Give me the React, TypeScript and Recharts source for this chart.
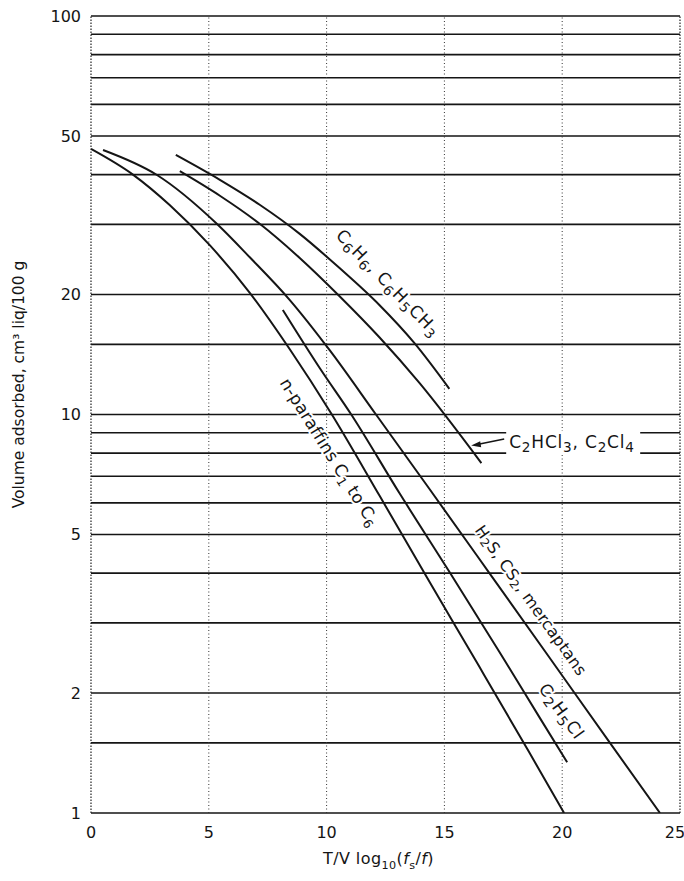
import React from 'react';
import { LineChart, Line, XAxis, YAxis, ReferenceLine, ReferenceDot, Label } from 'recharts';

const FONT = '"DejaVu Sans", "Open Sans", sans-serif';
const INK = '#151515';

// Axis ticks and grid values
const xTicks = [0, 5, 10, 15, 20, 25];
const yTicks = [1, 2, 5, 10, 20, 50, 100];
const yGrid = [1, 1.5, 2, 3, 4, 5, 6, 7, 8, 9, 10, 15, 20, 30, 40, 50, 60, 70, 80, 90, 100];
const xGrid = [5, 10, 15, 20];
const xEdges = [0, 25];

// Adsorption curves: x = T/V log10(fs/f), y = volume adsorbed (cm3 liq / 100 g)
const nParaffins = [
  { x: 0, y: 46.4 }, { x: 1.78, y: 40 }, { x: 3.35, y: 33.5 }, { x: 5.04, y: 26.6 },
  { x: 6.74, y: 20.2 }, { x: 8.43, y: 14.6 }, { x: 10.21, y: 10.03 }, { x: 12.25, y: 6.25 },
  { x: 14.36, y: 3.81 }, { x: 16.48, y: 2.33 }, { x: 18.6, y: 1.42 }, { x: 20.08, y: 1 },
];
const h2sGroup = [
  { x: 0.51, y: 46.1 }, { x: 2.8, y: 39.9 }, { x: 5.34, y: 30.1 }, { x: 6.74, y: 24.8 },
  { x: 8.43, y: 19.4 }, { x: 10.13, y: 14.5 }, { x: 12.08, y: 10.03 }, { x: 14.36, y: 6.51 },
  { x: 16.91, y: 4.0 }, { x: 19.45, y: 2.46 }, { x: 21.99, y: 1.51 }, { x: 24.15, y: 1 },
];
const aromatics = [
  { x: 3.6, y: 44.8 }, { x: 5.47, y: 38.8 }, { x: 7.16, y: 33.6 }, { x: 8.86, y: 28.4 },
  { x: 10.55, y: 23.3 }, { x: 12.25, y: 18.8 }, { x: 13.73, y: 15.1 }, { x: 15.21, y: 11.6 },
];
const chloroEthylenes = [
  { x: 3.77, y: 40.8 }, { x: 5.47, y: 35.4 }, { x: 7.16, y: 30.1 }, { x: 8.86, y: 24.7 },
  { x: 10.55, y: 19.8 }, { x: 12.25, y: 15.6 }, { x: 13.94, y: 12.0 }, { x: 16.57, y: 7.55 },
];
const ethylChloride = [
  { x: 8.14, y: 18.3 }, { x: 9.7, y: 13.1 }, { x: 11.06, y: 9.97 }, { x: 13.09, y: 6.35 },
  { x: 15.21, y: 4.03 }, { x: 17.33, y: 2.54 }, { x: 19.03, y: 1.74 }, { x: 20.21, y: 1.34 },
];

const curves = [nParaffins, h2sGroup, aromatics, chloroEthylenes, ethylChloride];

type Part = [string, 'n' | 'sub' | 'it'];

type Caption = {
  x: number; y: number; angle: number; anchor: 'middle' | 'start';
  fs: number; sub: number; spacing: number;
  parts: Part[]; arrow?: boolean; box?: boolean;
};

// Curve captions, anchored in data units
const captions: Caption[] = [
  {
    x: 12.62, y: 21.4, angle: 46, anchor: 'middle', fs: 17, sub: 0.8, spacing: 1,
    parts: [['C', 'n'], ['6', 'sub'], ['H', 'n'], ['6', 'sub'], [', C', 'n'], ['6', 'sub'], ['H', 'n'], ['5', 'sub'], ['CH', 'n'], ['3', 'sub']],
  },
  {
    x: 17.75, y: 8.53, angle: 0, anchor: 'start', fs: 17, sub: 0.8, spacing: 0.8, arrow: true, box: true,
    parts: [['C', 'n'], ['2', 'sub'], ['HCl', 'n'], ['3', 'sub'], [', C', 'n'], ['2', 'sub'], ['Cl', 'n'], ['4', 'sub']],
  },
  {
    x: 10.13, y: 8.05, angle: 58, anchor: 'middle', fs: 17, sub: 0.75, spacing: 0.3,
    parts: [['n-paraffins C', 'n'], ['1', 'sub'], [' to C', 'n'], ['6', 'sub']],
  },
  {
    x: 18.69, y: 3.42, angle: 54.6, anchor: 'middle', fs: 16, sub: 0.75, spacing: 0.3,
    parts: [['H', 'n'], ['2', 'sub'], ['S, CS', 'n'], ['2', 'sub'], [', mercaptans', 'n']],
  },
  {
    x: 19.98, y: 1.8, angle: 54, anchor: 'middle', fs: 17, sub: 0.8, spacing: 1,
    parts: [['C', 'n'], ['2', 'sub'], ['H', 'n'], ['5', 'sub'], ['Cl', 'n']],
  },
];

const renderParts = (parts: Part[], fs: number, sub = 0.7) => {
  let shift = 0;
  return parts.map(([t, k], i) => {
    const target = k === 'sub' ? fs * 0.3 : 0;
    const dy = target - shift;
    shift = target;
    return (
      <tspan key={i} dy={dy} fontSize={k === 'sub' ? fs * sub : fs} fontStyle={k === 'it' ? 'italic' : undefined}>
        {t}
      </tspan>
    );
  });
};

const CaptionShape = (props: any) => {
  const { cx, cy, caption } = props;
  if (cx == null || cy == null) return null;
  const c: Caption = caption;
  return (
    <g>
      {c.box && <rect x={cx - 3} y={cy - 11} width={134} height={24} fill="#fff" />}
      {c.arrow && (
        <g>
          <line x1={cx - 5} y1={cy - 3} x2={cx - 32} y2={cy + 2.5} stroke={INK} strokeWidth={1.5} />
          <path d={`M ${cx - 38} ${cy + 3.6} L ${cx - 29} ${cy - 0.8} L ${cx - 28} ${cy + 5.2} Z`} fill={INK} />
        </g>
      )}
      <text
        x={cx}
        y={cy}
        transform={c.angle ? `rotate(${c.angle} ${cx} ${cy})` : undefined}
        textAnchor={c.anchor}
        dominantBaseline="central"
        fontFamily={FONT}
        fontSize={c.fs}
        letterSpacing={c.spacing}
        fill={INK}
        stroke={c.box ? 'none' : '#fff'}
        strokeWidth={c.box ? 0 : 4}
        paintOrder="stroke"
        strokeLinejoin="round"
      >
        {renderParts(c.parts, c.fs, c.sub)}
      </text>
    </g>
  );
};

const XTick = (props: any) => {
  const { x, y, payload } = props;
  const last = payload.value === xTicks[xTicks.length - 1];
  return (
    <text x={last ? x - 5 : x} y={y} dy="0.71em" textAnchor="middle" fontFamily={FONT} fontSize={16} fill={INK}>
      {payload.value}
    </text>
  );
};

const XTitle = (props: any) => {
  const vb = props.viewBox || { x: 91, y: 813, width: 589, height: 30 };
  const fs = 16;
  return (
    <text x={vb.x + vb.width / 2 - 7} y={vb.y + 51} textAnchor="middle" fontFamily={FONT} fontSize={fs} letterSpacing={0.4} fill={INK}>
      {renderParts([['T/V  log', 'n'], ['10', 'sub'], ['(', 'n']], fs)}
      <tspan dy={0} fontStyle="italic">f</tspan>
      <tspan dy={fs * 0.3} fontSize={fs * 0.7}>s</tspan>
      <tspan dy={-fs * 0.3}>/</tspan>
      <tspan fontStyle="italic">f</tspan>
      <tspan>)</tspan>
    </text>
  );
};

const YTitle = (props: any) => {
  const vb = props.viewBox || { x: 0, y: 16, width: 91, height: 797 };
  const cx = vb.x + 19;
  const cy = vb.y + vb.height / 2 - 30;
  return (
    <text
      x={cx}
      y={cy}
      transform={`rotate(-90 ${cx} ${cy})`}
      textAnchor="middle"
      dominantBaseline="central"
      fontFamily={FONT}
      fontSize={15.5}
      fill={INK}
    >
      Volume adsorbed, cm³ liq/100 g
    </text>
  );
};

export default function App() {
  return (
    <div style={{ position: 'absolute', left: 0, top: 0, width: 684, height: 881, background: '#fff' }}>
      <LineChart width={684} height={881} margin={{ top: 16, right: 4, bottom: 38, left: 0 }}>
        <XAxis
          type="number"
          dataKey="x"
          domain={[0, 25]}
          ticks={xTicks}
          interval={0}
          allowDataOverflow
          tickLine={false}
          axisLine={false}
          tickMargin={8}
          height={30}
          tick={<XTick />}
        >
          <Label content={XTitle} />
        </XAxis>
        <YAxis
          type="number"
          dataKey="y"
          scale="log"
          domain={[1, 100]}
          ticks={yTicks}
          interval={0}
          allowDataOverflow
          tickLine={false}
          axisLine={false}
          tickMargin={4}
          width={91}
          tick={{ fontSize: 16, fill: INK, fontFamily: FONT }}
        >
          <Label content={YTitle} />
        </YAxis>

        {yGrid.map((v) => (
          <ReferenceLine key={`h${v}`} y={v} stroke={INK} strokeWidth={1.6} ifOverflow="visible" />
        ))}
        {xGrid.map((v) => (
          <ReferenceLine key={`v${v}`} x={v} stroke="#333" strokeWidth={1} strokeDasharray="1 2.5" ifOverflow="visible" />
        ))}
        {xEdges.map((v) => (
          <ReferenceLine key={`e${v}`} x={v} stroke="#222" strokeWidth={1.2} strokeDasharray="1.5 1.5" ifOverflow="visible" />
        ))}

        {curves.map((d, i) => (
          <Line
            key={i}
            data={d}
            dataKey="y"
            type="monotone"
            stroke={INK}
            strokeWidth={2}
            dot={false}
            activeDot={false}
            isAnimationActive={false}
          />
        ))}

        {captions.map((c, i) => (
          <ReferenceDot
            key={`c${i}`}
            x={c.x}
            y={c.y}
            r={0}
            ifOverflow="visible"
            shape={(p: any) => <CaptionShape {...p} caption={c} />}
          />
        ))}
      </LineChart>
    </div>
  );
}
